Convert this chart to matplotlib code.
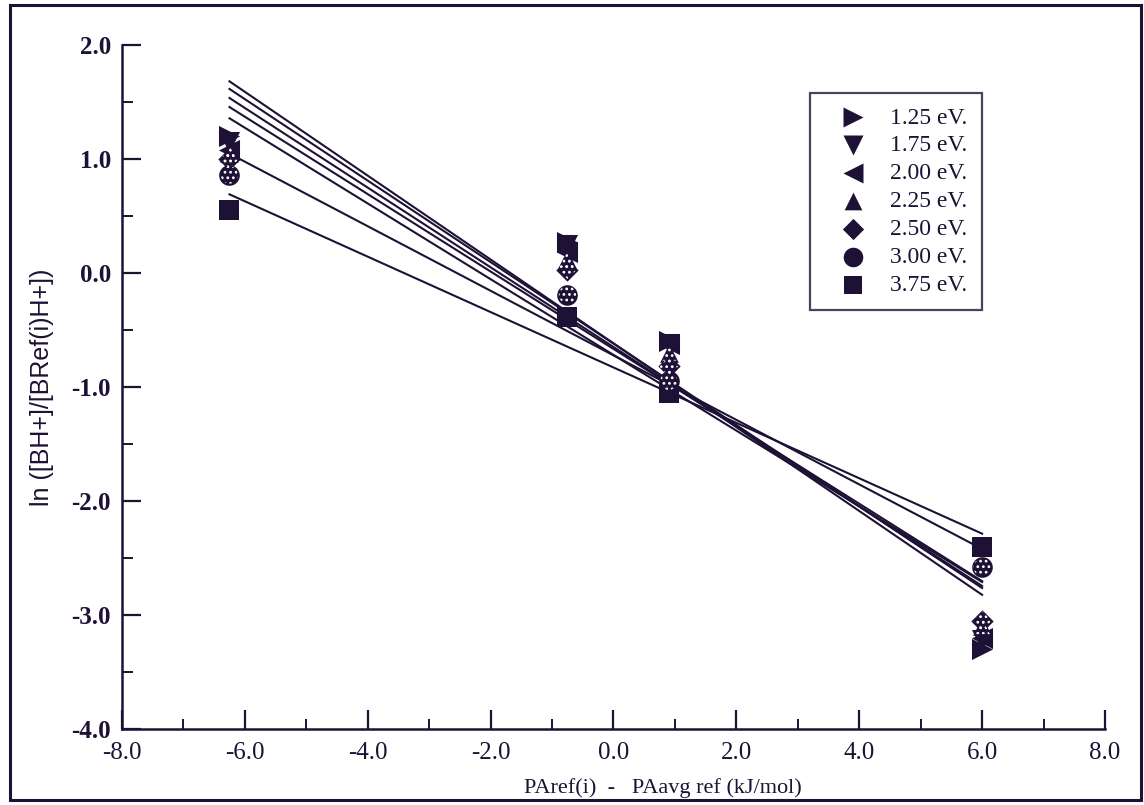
import numpy as np
import matplotlib
matplotlib.use("Agg")
import matplotlib.pyplot as plt
from matplotlib.patches import Rectangle
from matplotlib.ticker import MultipleLocator

# x positions: PAref(i) - PAavg ref (kJ/mol)
x_vals = [-6.25, -0.75, 0.9, 6.0]

energies = ["1.25 eV.", "1.75 eV.", "2.00 eV.", "2.25 eV.", "2.50 eV.", "3.00 eV.", "3.75 eV."]

# ln([BH+]/[BRef(i)H+]) per collision energy
y_125 = [1.20, 0.27, -0.60, -3.30]
y_175 = [1.15, 0.25, -0.62, -3.22]
y_200 = [1.08, 0.18, -0.62, -3.20]
y_225 = [1.05, 0.12, -0.70, -3.10]
y_250 = [1.00, 0.03, -0.82, -3.05]
y_300 = [0.86, -0.19, -0.95, -2.58]
y_375 = [0.55, -0.39, -1.05, -2.40]

series = [y_125, y_175, y_200, y_225, y_250, y_300, y_375]
markers = [">", "v", "<", "^", "D", "o", "s"]
sizes = [230, 230, 230, 180, 130, 220, 200]
hatched = [False, False, False, True, True, True, False]

ink = "#1d1235"
plt.rcParams["hatch.linewidth"] = 1.2

fig = plt.figure(figsize=(11.44, 8.05), dpi=100)
ax = fig.add_axes([0.1066, 0.0944, 0.8593, 0.8497])

xs = np.array(x_vals)
for ys, mk, sz, hat, lab in zip(series, markers, sizes, hatched, energies):
    # least squares line through each series
    slope, icpt = np.polyfit(xs, ys, 1)
    ax.plot(xs[[0, -1]], slope * xs[[0, -1]] + icpt, color=ink, lw=1.5, zorder=2)
    ax.scatter(xs, ys, marker=mk, s=sz, color=ink, linewidths=0, zorder=3, label=lab)
    if hat:
        ax.scatter(xs, ys, marker=mk, s=sz * 0.7, facecolor="none", edgecolor="white",
                   hatch="...", linewidths=0, zorder=4)

ax.set_xlim(-8, 8)
ax.set_ylim(-4, 2)
ax.spines["top"].set_visible(False)
ax.spines["right"].set_visible(False)
for s in ["left", "bottom"]:
    ax.spines[s].set_color(ink)
    ax.spines[s].set_linewidth(1.8)

ax.xaxis.set_major_locator(MultipleLocator(2))
ax.xaxis.set_minor_locator(MultipleLocator(1))
ax.yaxis.set_major_locator(MultipleLocator(1))
ax.yaxis.set_minor_locator(MultipleLocator(0.5))
ax.tick_params(which="major", direction="in", length=14, width=1.6, color=ink)
ax.tick_params(which="minor", direction="in", length=8, width=1.4, color=ink)
ax.tick_params(axis="x", which="major", length=14, pad=9)
ax.tick_params(axis="x", which="minor", length=7)
ax.tick_params(axis="y", which="major", pad=8)

ax.set_xticklabels([f"{v:.1f}" for v in ax.get_xticks()], family="Liberation Serif",
                   fontsize=18, color=ink)
ax.set_yticklabels([f"{v:.1f}" for v in ax.get_yticks()], family="Liberation Serif",
                   fontsize=18, fontweight="bold", color=ink)

ax.set_xlabel("PAref(i)  -   PAavg ref (kJ/mol)", family="Liberation Serif",
              fontsize=16, color=ink)
ax.xaxis.set_label_coords(0.55, -0.072)
ax.set_ylabel("ln ([BH+]/[BRef(i)H+])", family="Liberation Sans", fontsize=18,
              color=ink)
ax.yaxis.set_label_coords(-0.069, 0.5)

leg = ax.legend(loc="upper left", bbox_to_anchor=(0.70, 0.93), borderaxespad=0,
                frameon=True, fancybox=False,
                prop={"family": "Liberation Serif", "size": 17},
                handletextpad=0.4, borderpad=0.6, labelspacing=0.27,
                handlelength=2.4, markerscale=0.95)
leg.get_frame().set_edgecolor(ink)
leg.get_frame().set_linewidth(1.6)
for t in leg.get_texts():
    t.set_color(ink)

# outer border around the whole picture
fig.patches.append(Rectangle((0.009, 0.006), 0.988, 0.988, transform=fig.transFigure,
                             fill=False, edgecolor=ink, linewidth=2.2))

fig.savefig("out.png", dpi=100)
